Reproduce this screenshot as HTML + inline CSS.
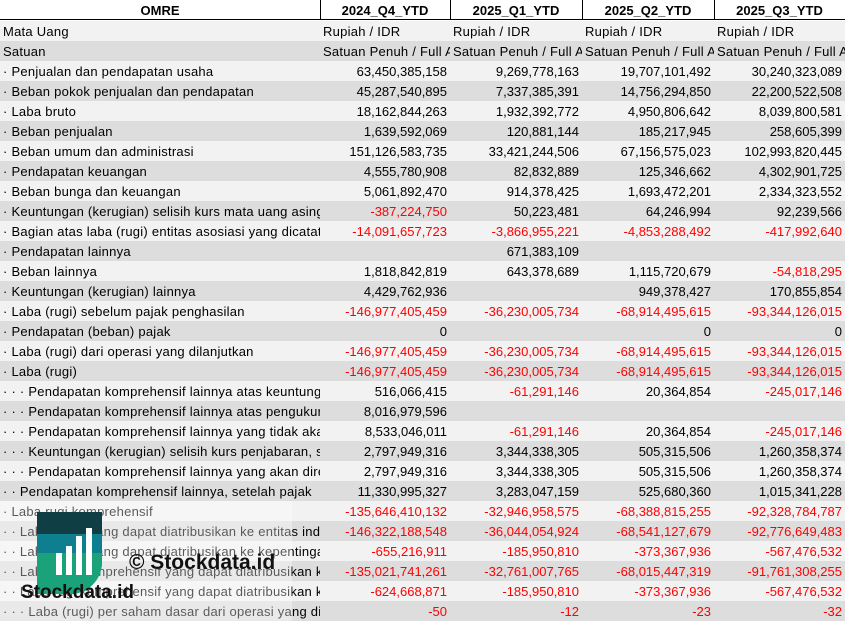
<!DOCTYPE html>
<html><head><meta charset="utf-8"><style>
body{margin:0;width:845px;height:621px;overflow:hidden;background:#fff;font-family:"Liberation Sans",sans-serif;font-size:13px;}
.r{position:absolute;left:0;width:845px;height:20px;line-height:21px;}
.c{position:absolute;top:0;height:20px;overflow:hidden;white-space:nowrap;}
.l{padding-left:3px;box-sizing:border-box;letter-spacing:0.25px;}
.n{text-align:right;padding-right:3px;box-sizing:border-box;}
.neg{color:#f00;}
.h{font-weight:bold;text-align:center;}
.vl{position:absolute;top:0;width:1px;height:20px;background:#000;}
</style></head><body>
<div class="r" style="top:0;background:#fff">
<div class="c h" style="left:0;width:320px">OMRE</div>
<div class="c h" style="left:320px;width:130px">2024_Q4_YTD</div>
<div class="c h" style="left:450px;width:132px">2025_Q1_YTD</div>
<div class="c h" style="left:582px;width:132px">2025_Q2_YTD</div>
<div class="c h" style="left:714px;width:131px">2025_Q3_YTD</div>
<div class="vl" style="left:320px"></div><div class="vl" style="left:450px"></div><div class="vl" style="left:582px"></div><div class="vl" style="left:714px"></div>
<div style="position:absolute;left:0;top:19px;width:845px;height:1px;background:#000"></div>
</div>
<div id="rows"></div>
<script>
var D=[
["Mata Uang","t:Rupiah / IDR","t:Rupiah / IDR","t:Rupiah / IDR","t:Rupiah / IDR"],
["Satuan","t:Satuan Penuh / Full Amount","t:Satuan Penuh / Full Amount","t:Satuan Penuh / Full Amount","t:Satuan Penuh / Full Amount"],
["· Penjualan dan pendapatan usaha","63,450,385,158","9,269,778,163","19,707,101,492","30,240,323,089"],
["· Beban pokok penjualan dan pendapatan","45,287,540,895","7,337,385,391","14,756,294,850","22,200,522,508"],
["· Laba bruto","18,162,844,263","1,932,392,772","4,950,806,642","8,039,800,581"],
["· Beban penjualan","1,639,592,069","120,881,144","185,217,945","258,605,399"],
["· Beban umum dan administrasi","151,126,583,735","33,421,244,506","67,156,575,023","102,993,820,445"],
["· Pendapatan keuangan","4,555,780,908","82,832,889","125,346,662","4,302,901,725"],
["· Beban bunga dan keuangan","5,061,892,470","914,378,425","1,693,472,201","2,334,323,552"],
["· Keuntungan (kerugian) selisih kurs mata uang asing","-387,224,750","50,223,481","64,246,994","92,239,566"],
["· Bagian atas laba (rugi) entitas asosiasi yang dicatat","-14,091,657,723","-3,866,955,221","-4,853,288,492","-417,992,640"],
["· Pendapatan lainnya","","671,383,109","",""],
["· Beban lainnya","1,818,842,819","643,378,689","1,115,720,679","-54,818,295"],
["· Keuntungan (kerugian) lainnya","4,429,762,936","","949,378,427","170,855,854"],
["· Laba (rugi) sebelum pajak penghasilan","-146,977,405,459","-36,230,005,734","-68,914,495,615","-93,344,126,015"],
["· Pendapatan (beban) pajak","0","","0","0"],
["· Laba (rugi) dari operasi yang dilanjutkan","-146,977,405,459","-36,230,005,734","-68,914,495,615","-93,344,126,015"],
["· Laba (rugi)","-146,977,405,459","-36,230,005,734","-68,914,495,615","-93,344,126,015"],
["· · · Pendapatan komprehensif lainnya atas keuntungan","516,066,415","-61,291,146","20,364,854","-245,017,146"],
["· · · Pendapatan komprehensif lainnya atas pengukuran","8,016,979,596","","",""],
["· · · Pendapatan komprehensif lainnya yang tidak akan","8,533,046,011","-61,291,146","20,364,854","-245,017,146"],
["· · · Keuntungan (kerugian) selisih kurs penjabaran, setelah","2,797,949,316","3,344,338,305","505,315,506","1,260,358,374"],
["· · · Pendapatan komprehensif lainnya yang akan direklasifikasi","2,797,949,316","3,344,338,305","505,315,506","1,260,358,374"],
["· · Pendapatan komprehensif lainnya, setelah pajak","11,330,995,327","3,283,047,159","525,680,360","1,015,341,228"],
["· Laba rugi komprehensif","-135,646,410,132","-32,946,958,575","-68,388,815,255","-92,328,784,787"],
["· · Laba (rugi) yang dapat diatribusikan ke entitas induk","-146,322,188,548","-36,044,054,924","-68,541,127,679","-92,776,649,483"],
["· · Laba (rugi) yang dapat diatribusikan ke kepentingan","-655,216,911","-185,950,810","-373,367,936","-567,476,532"],
["· · Laba rugi komprehensif yang dapat diatribusikan ke","-135,021,741,261","-32,761,007,765","-68,015,447,319","-91,761,308,255"],
["· · Laba rugi komprehensif yang dapat diatribusikan ke","-624,668,871","-185,950,810","-373,367,936","-567,476,532"],
["· · · Laba (rugi) per saham dasar dari operasi yang dilanjutkan","-50","-12","-23","-32"]];
var X=[[0,320],[320,130],[450,132],[582,132],[714,131]],h="";
D.forEach(function(r,i){
 h+='<div class="r" style="top:'+(21+i*20)+'px;background:'+(i%2?'#dddddd':'#f2f2f2')+'">';
 r.forEach(function(v,j){
  var cls="c ",t=v;
  if(j==0)cls+="l";else if(v.indexOf("t:")==0){cls+="l";t=v.slice(2);}else{cls+="n";if(v[0]=="-")cls+=" neg";}
  h+='<div class="'+cls+'" style="left:'+X[j][0]+'px;width:'+X[j][1]+'px">'+t+'</div>';
 });
 h+='</div>';
});
document.getElementById("rows").innerHTML=h;
</script>
<div style="position:absolute;left:0;top:501px;width:292px;height:120px;background:rgba(255,255,255,0.35)"></div>
<svg style="position:absolute;left:0;top:0" width="845" height="621">
<defs><clipPath id="cp"><path d="M37,512 h65 v50 a32,32 0 0 1 -32,32 h-33 z"/></clipPath></defs>
<g clip-path="url(#cp)"><rect x="37" y="512" width="65" height="82" fill="#0d7f8f"/><rect x="37" y="512" width="65" height="22" fill="#0f3f45"/><rect x="37" y="553" width="65" height="41" fill="#1aa37a"/></g>
<rect x="56" y="553" width="6" height="22" fill="#fff"/><rect x="66" y="546" width="6" height="29" fill="#fff"/><rect x="76" y="536" width="6" height="39" fill="#fff"/><rect x="86" y="528" width="6" height="47" fill="#fff"/>
<text x="21" y="598" font-family="Liberation Sans" font-weight="bold" font-size="19" fill="#111">Stockdata.id</text>
<text x="129" y="569" font-family="Liberation Sans" font-weight="bold" font-size="21" fill="#111">© Stockdata.id</text>
</svg>
</body></html>
